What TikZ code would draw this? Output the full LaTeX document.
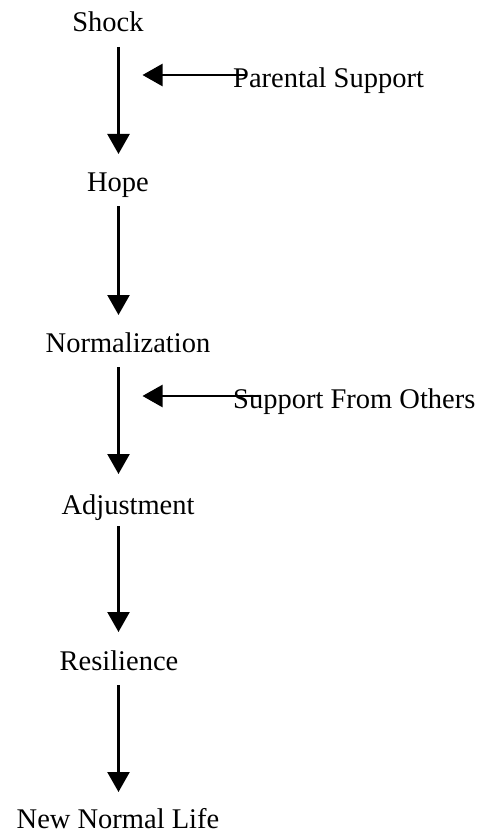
\documentclass[tikz,border=0pt]{standalone}
\usepackage{fontspec}
\setmainfont{Liberation Serif}
\usetikzlibrary{arrows.meta,calc}
\begin{document}
\begin{tikzpicture}[x=1pt,y=-1pt,
  lbl/.style={inner sep=0pt,font=\fontsize{28.5}{34}\selectfont},
  arr/.style={line width=2.4pt,-{Triangle[width=22pt,length=20pt]}}]
\useasboundingbox (0,0) rectangle (487,837);
\coordinate (ax) at (118.5,0);
\node[lbl,anchor=base] (shock) at (108,32) {Shock};
\node[lbl,anchor=base] (hope) at (118,192) {Hope};
\node[lbl,anchor=base] (norm) at (128,352) {Normalization};
\node[lbl,anchor=base] (adj) at (128,514) {Adjustment};
\node[lbl,anchor=base] (res) at (119,670) {Resilience};
\node[lbl,anchor=base] (nnl) at (118,828) {New Normal Life};
\node[lbl,anchor=base west] (par) at (233,88) {Parental Support};
\node[lbl,anchor=base west] (oth) at (233,408) {Support From Others};
\coordinate (tip) at (142.5,0);
\draw[arr] ($(shock.base -| ax)+(0,15)$) -- ($(hope.base -| ax)+(0,-38)$);
\draw[arr] ($(hope.base -| ax)+(0,14)$) -- ($(norm.base -| ax)+(0,-37)$);
\draw[arr] ($(norm.base -| ax)+(0,15)$) -- ($(adj.base -| ax)+(0,-40)$);
\draw[arr] ($(adj.base -| ax)+(0,12)$) -- ($(res.base -| ax)+(0,-38)$);
\draw[arr] ($(res.base -| ax)+(0,15)$) -- ($(nnl.base -| ax)+(0,-36)$);
\draw[arr] ($(par.base west)+(14,-13)$) -- ($(par.base west -| tip)+(0,-13)$);
\draw[arr] ($(oth.base west)+(27,-12)$) -- ($(oth.base west -| tip)+(0,-12)$);
\end{tikzpicture}
\end{document}
